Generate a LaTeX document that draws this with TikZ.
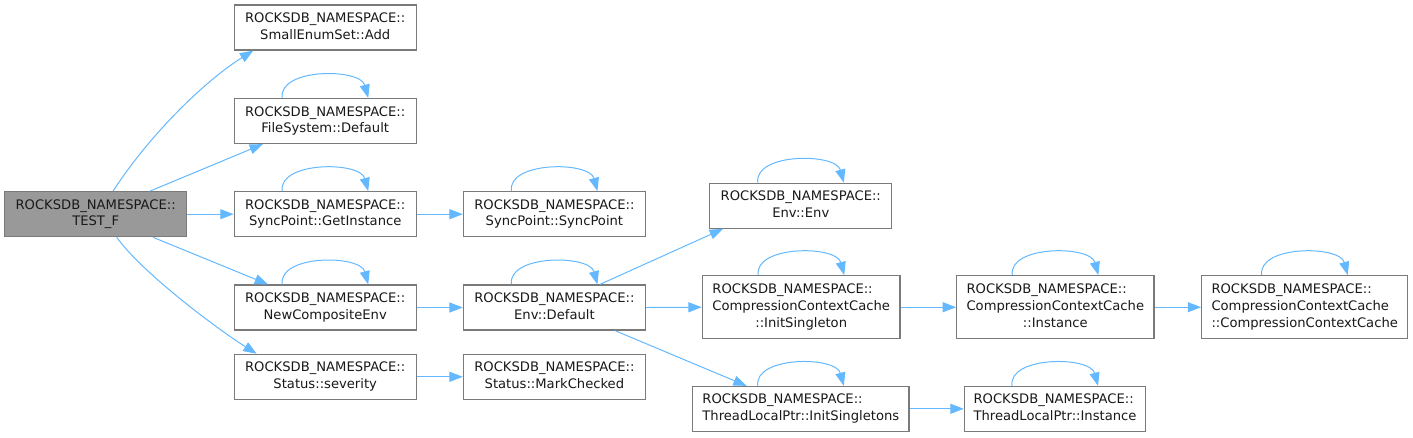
\documentclass[tikz,border=0pt]{standalone}
\usepackage{fontspec}
\setmainfont{DejaVu Sans}
\usetikzlibrary{arrows.meta}
\definecolor{edgeblue}{HTML}{63B8FF}
\definecolor{boxgray}{HTML}{7A7A7A}
\definecolor{fillgray}{HTML}{999999}
\newcommand\lbl[2]{\begin{tabular}{@{}l@{}}#1\\\multicolumn{1}{@{}c@{}}{#2}\end{tabular}}
\tikzset{
  box/.style={draw=boxgray, line width=0.9pt, fill=white, inner sep=0pt,
    font=\fontsize{9.85}{12.5}\selectfont, text=black!90},
  w182/.style={minimum width=136.5pt, minimum height=33.75pt},
  edge/.style={draw=edgeblue, line width=0.75pt,
    -{Triangle[length=10pt,width=7.5pt]}},
}
\newcommand\selfloop[1]{\draw[edge] ([xshift=-32.25pt]#1.north) .. controls +(-4,-30) and +(-8,-30) .. ([xshift=32.25pt]#1.north);}
\begin{document}
\begin{tikzpicture}[x=0.75pt,y=-0.75pt]
\useasboundingbox (0,0) rectangle (1413,437);
% column 0
\node[box,w182,fill=fillgray] (test) at (95.7,214.2) {\lbl{ROCKSDB\_NAMESPACE::}{TEST\_F}};
% column 1
\node[box,w182] (add) at (325.2,27.5) {\lbl{ROCKSDB\_NAMESPACE::}{SmallEnumSet::Add}};
\node[box,w182] (fsd) at (325.2,121) {\lbl{ROCKSDB\_NAMESPACE::}{FileSystem::Default}};
\node[box,w182] (gi) at (325.2,214.2) {\lbl{ROCKSDB\_NAMESPACE::}{SyncPoint::GetInstance}};
\node[box,w182] (nce) at (325.2,307.5) {\lbl{ROCKSDB\_NAMESPACE::}{NewCompositeEnv}};
\node[box,w182] (sev) at (325.2,376.8) {\lbl{ROCKSDB\_NAMESPACE::}{Status::severity}};
% column 2
\node[box,w182] (sp) at (554.4,214.2) {\lbl{ROCKSDB\_NAMESPACE::}{SyncPoint::SyncPoint}};
\node[box,w182] (envd) at (554.4,307.5) {\lbl{ROCKSDB\_NAMESPACE::}{Env::Default}};
\node[box,w182] (mc) at (554.4,376.8) {\lbl{ROCKSDB\_NAMESPACE::}{Status::MarkChecked}};
% column 3
\node[box,w182] (env) at (800.8,205.8) {\lbl{ROCKSDB\_NAMESPACE::}{Env::Env}};
\node[box,minimum width=148.3pt,minimum height=47.25pt] (cis) at (801.2,307.2) {\lbl{ROCKSDB\_NAMESPACE::\\CompressionContextCache}{::InitSingleton}};
\node[box,minimum width=162.2pt,minimum height=33.5pt] (tis) at (800.8,408.8) {\lbl{ROCKSDB\_NAMESPACE::}{ThreadLocalPtr::InitSingletons}};
% column 4
\node[box,minimum width=148pt,minimum height=47.25pt] (cci) at (1055.3,307.2) {\lbl{ROCKSDB\_NAMESPACE::\\CompressionContextCache}{::Instance}};
\node[box,minimum width=136pt,minimum height=33.5pt] (tli) at (1055,408.8) {\lbl{ROCKSDB\_NAMESPACE::}{ThreadLocalPtr::Instance}};
% column 5
\node[box,minimum width=154.5pt,minimum height=47.25pt] (ccc) at (1304.7,307.2) {\lbl{ROCKSDB\_NAMESPACE::\\CompressionContextCache}{::CompressionContextCache}};
% edges
\draw[edge] ([xshift=13pt]test.north) .. controls +(37,-57) and +(-48,30) .. ([xshift=-54pt]add.south);
\draw[edge] ([xshift=40.7pt]test.north) -- ([xshift=-46.7pt]fsd.south);
\draw[edge] (test.east) -- (gi.west);
\draw[edge] ([xshift=43pt]test.south) -- ([xshift=-42.9pt]nce.north);
\draw[edge] ([xshift=15.75pt]test.south) .. controls +(25,35) and +(-40,-25) .. ([xshift=-51.4pt]sev.north);
\draw[edge] (gi.east) -- (sp.west);
\draw[edge] (nce.east) -- (envd.west);
\draw[edge] (sev.east) -- (mc.west);
\draw[edge] ([xshift=34.1pt]envd.north) -- ([xshift=-58.4pt]env.south);
\draw[edge] (envd.east) -- (cis.west);
\draw[edge] ([xshift=45.4pt]envd.south) -- ([xshift=-40.6pt]tis.north);
\draw[edge] (cis.east) -- (cci.west);
\draw[edge] (cci.east) -- (ccc.west);
\draw[edge] (tis.east) -- (tli.west);
% self loops
\selfloop{fsd}
\selfloop{gi}
\selfloop{nce}
\selfloop{sp}
\selfloop{envd}
\selfloop{env}
\selfloop{cis}
\selfloop{cci}
\selfloop{ccc}
\selfloop{tis}
\selfloop{tli}
\end{tikzpicture}
\end{document}
